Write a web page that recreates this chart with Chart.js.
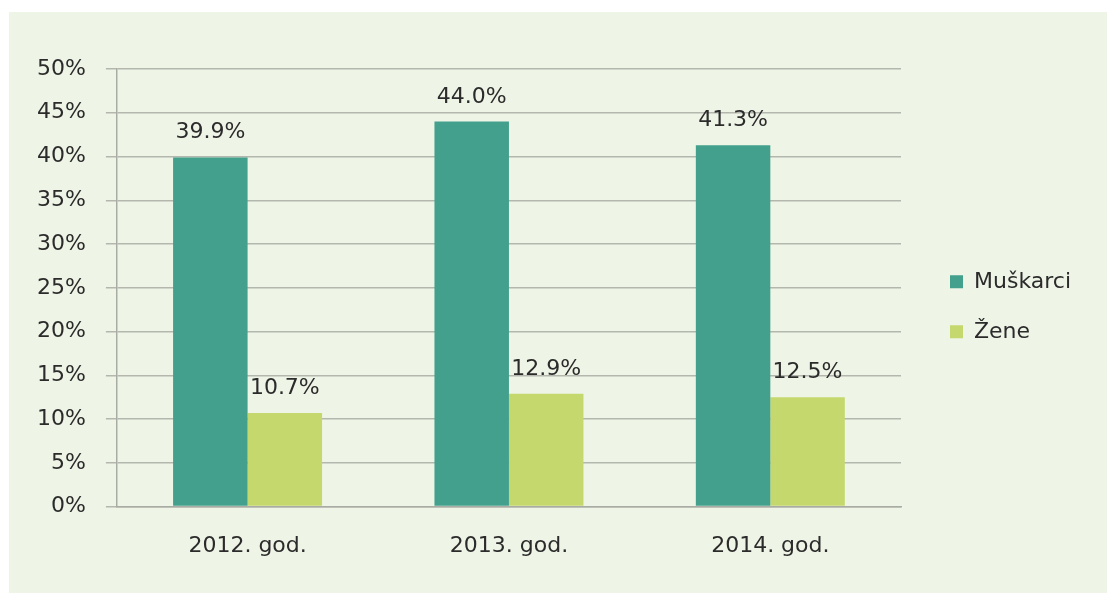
<!DOCTYPE html>
<html>
<head>
<meta charset="utf-8">
<script src="https://cdn.jsdelivr.net/npm/chart.js@4"></script>
<style>
  body { margin: 0; background: #fff; }
  #wrap { position: absolute; left: 9px; top: 12px; width: 1098px; height: 581px; background: #eef4e6; }
</style>
</head>
<body>
<div id="wrap"><canvas id="chart"></canvas></div>
<script>
const categories = ["2012. god.", "2013. god.", "2014. god."];
const seriesNames = ["Muškarci", "Žene"];
const muskarci = [39.9, 44.0, 41.3];
const zene = [10.7, 12.9, 12.5];
const colors = ["#42a08c", "#c4d86e"];

const font = { family: "DejaVu Sans", size: 22 };

// values written above each bar
const barLabels = {
    id: "barLabels",
    afterDatasetsDraw(chart) {
        const ctx = chart.ctx;
        ctx.save();
        ctx.font = "22px 'DejaVu Sans'";
        ctx.fillStyle = "#2b2b2b";
        ctx.textAlign = "center";
        ctx.textBaseline = "alphabetic";
        chart.data.datasets.forEach((ds, i) => {
            chart.getDatasetMeta(i).data.forEach((bar, j) => {
                ctx.fillText(ds.data[j].toFixed(1) + "%", bar.x, bar.y - 19);
            });
        });
        ctx.restore();
    }
};

const ctx = document.getElementById("chart").getContext("2d");
new Chart(ctx, {
    type: "bar",
    data: {
        labels: categories,
        datasets: [
            { label: seriesNames[0], data: muskarci, backgroundColor: colors[0] },
            { label: seriesNames[1], data: zene, backgroundColor: colors[1] }
        ]
    },
    options: {
        responsive: true,
        maintainAspectRatio: false,
        animation: false,
        categoryPercentage: 0.57,
        barPercentage: 1.0,
        layout: { padding: { left: 8, right: 26, top: 57, bottom: 16 } },
        plugins: {
            tooltip: { enabled: false },
            legend: {
                position: "right",
                fullSize: false,
                title: { display: true, text: " ", font: { size: 10 }, padding: 13 },
                labels: {
                    font: font,
                    color: "#2b2b2b",
                    boxWidth: 13,
                    boxHeight: 13,
                    padding: 28
                }
            }
        },
        scales: {
            x: {
                grid: { display: false },
                border: { color: "#a9aca4", width: 1.5 },
                ticks: { color: "#2b2b2b", font: font, padding: 18 }
            },
            y: {
                min: 0,
                max: 50,
                ticks: {
                    stepSize: 5,
                    color: "#2b2b2b",
                    font: font,
                    padding: 20,
                    callback: v => v + "%"
                },
                grid: { color: "#b4b7ae", lineWidth: 1.5, tickLength: 11 },
                border: { color: "#a9aca4", width: 1.5 }
            },
            // empty spacer between the plot and the legend
            gap: {
                position: "right",
                grid: { display: false },
                border: { display: false },
                ticks: { display: false },
                afterFit: s => { s.width = 21; }
            }
        }
    },
    plugins: [barLabels]
});
</script>
</body>
</html>
